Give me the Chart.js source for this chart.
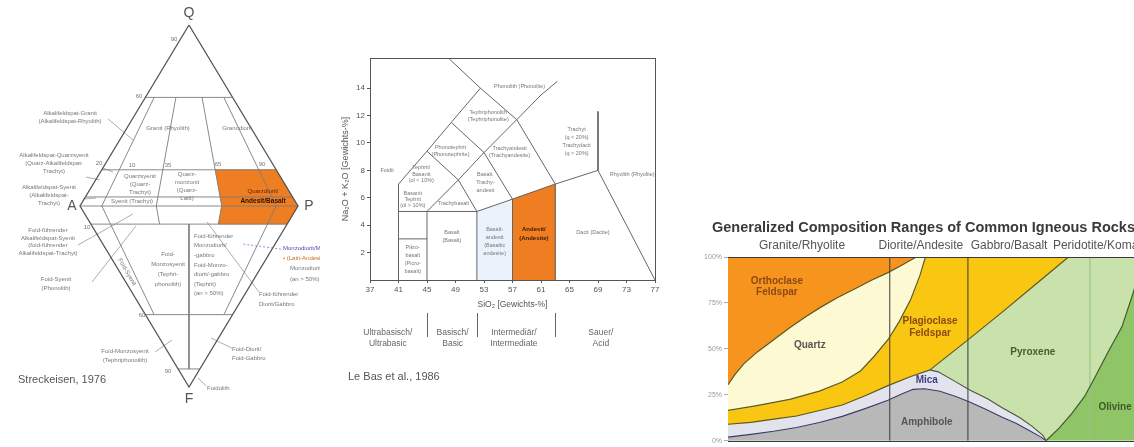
<!DOCTYPE html>
<html>
<head>
<meta charset="utf-8">
<script src="https://cdn.jsdelivr.net/npm/chart.js@4.4.1/dist/chart.umd.min.js"></script>
<style>
  html, body { margin: 0; padding: 0; background: #fff; }
  body { width: 1134px; height: 447px; overflow: hidden; position: relative; }
  canvas { position: absolute; }
</style>
</head>
<body>
<canvas id="qapf" width="320" height="420" style="left:0;top:0"></canvas>
<canvas id="tas" width="370" height="360" style="left:320px;top:40px"></canvas>
<canvas id="comp" width="510" height="247" style="left:690px;top:200px"></canvas>
<script>
/* ════════════════════════════════════════════════════════════════════
   Three igneous classification panels: QAPF, TAS, composition ranges.
════════════════════════════════════════════════════════════════════ */

// ── QAPF (Streckeisen 1976), values in % ──
const qSplits      = [60, 20, 5];          // Q lines in upper triangle
const fSplits      = [10, 60, 90];         // F lines in lower triangle
const ratiosQ60_20 = [10, 35, 65, 90];     // P/(A+P) dividers
const ratiosQ20_5  = [10, 35, 65, 90];
const ratiosQ5_0   = [10, 35, 65, 90];
const ratiosF0_10  = [10, 35, 65, 90];
const ratiosF10_60 = [10, 50, 90];
const ratiosF60_90 = [50];
const markedQ = 20, markedRatio = 65, markedF = 10;   // highlighted field

// ── TAS (Le Bas et al. 1986), SiO2 / Na2O+K2O wt% ──
const tasXTicks = [37, 41, 45, 49, 53, 57, 61, 65, 69, 73, 77];
const tasYTicks = [2, 4, 6, 8, 10, 12, 14];
const tasFoiditeLine   = [[41,0],[41,7],[45,9.4],[48.4,11.5],[52.5,14]];
const tasPhonoliteLine = [[48,16.2],[52.5,14],[57.6,11.7],[63,7]];
const tasTephriteLine  = [[45,9.4],[49.4,7.3],[52,5]];
const tasPhonotephLine = [[48.4,11.5],[53,9.3],[57,5.9]];
const tasAlkaliLine    = [[45,5],[49.4,7.3],[53,9.3],[57.6,11.7],[61,13.5],[63.3,14.5]];
const tasSubalkLine    = [[41,5],[52,5],[57,5.9],[63,7],[69,8]];
const tasPicroTop      = [[41,3],[45,3]];
const tasRhyoliteLine  = [[69,12.3],[69,8],[77,0]];
const tasFieldWalls    = [[45,5],[52,5],[57,5.9],[63,7]];
const tasAndesite      = [[57,0],[57,5.9],[63,7],[63,0]];
const tasBasAndesite   = [[52,0],[52,5],[57,5.9],[57,0]];
const tasClassBreaks   = [45, 52, 63];

// ── Composition ranges, x = % across rock series, y = volume % ──
const compYTicks = [0, 25, 50, 75, 100];
const compColumnBreaks = [35.4, 52.5];
const compPeridotiteBreak = 79.2;
const orthoQuartzLine = [[0,30.5],[1.5,36],[3.5,42],[6.5,48.5],[10,55],[13.5,61.5],[17,67.5],[20.5,73],[24,78],[28,83],[31.5,87.5],[35,91.5],[38,95.5],[40.5,99],[41.2,100]];
const quartzPlagLine  = [[0,16.5],[6,19],[13.5,22.5],[20,27],[25,32],[29,38],[32,46],[35,55],[37.5,65],[40,77],[42,90],[43.2,100]];
const plagMicaLine    = [[0,9],[5,10],[10,11.8],[15,13.5],[20,16.5],[25,19.5],[30,24.5],[35,30],[40,35],[44.2,38.6]];
const pyxMicaLine     = [[44.2,38.6],[46,37.5],[49.2,33],[53,27.5],[56.7,23],[60,18],[63.9,12.5],[66.5,8],[68.9,3],[69.6,0]];
const micaAmphLine    = [[0,2],[5,3.5],[10,5.2],[15,7.2],[20,10],[25,13.3],[30,17.5],[35,22],[38,25.5],[40.5,28],[43,28.3],[46.4,27],[50,24],[53,21],[56.5,17],[60,12.8],[63,9.5],[66.1,5.3],[68.5,2],[69.6,0]];
const plagPyxLine     = [[44.2,38.6],[52.3,54.5],[60,70],[67,84.5],[74.5,100]];
const pyxOlivineLine  = [[69.6,0],[72.5,7],[75.3,15],[78,24],[80.3,34.6],[83,47.5],[86.2,62],[88.6,80],[91,100]];

const FONT = '"Liberation Sans", Arial, sans-serif';
const ORANGE = '#ef7d22';

// ── helpers ──
const pts = arr => arr.map(([x, y]) => ({ x, y }));
const rev = arr => arr.slice().reverse();

function lineSet(data, color, width, dash) {
  return { data, borderColor: color, borderWidth: width, borderDash: dash || [],
           pointRadius: 0, fill: false, tension: 0, order: 1 };
}
function areaSet(data, color) {
  return { data, borderColor: color, borderWidth: 0.6, backgroundColor: color,
           pointRadius: 0, fill: 'shape', tension: 0, order: 2 };
}

// text / rule / frame overlay, drawn through the chart's scales
function notes(cfg) {
  return {
    id: 'notes',
    afterDatasetsDraw(chart) {
      const { ctx, chartArea: a, scales: { x, y } } = chart;
      ctx.save();
      if (cfg.frame) {
        ctx.strokeStyle = cfg.frame; ctx.lineWidth = 1;
        ctx.strokeRect(Math.round(a.left) + 0.5, Math.round(a.top) + 0.5,
                       Math.round(a.right - a.left), Math.round(a.bottom - a.top));
      }
      (cfg.edges || []).forEach(v => {
        const py = Math.round(y.getPixelForValue(v)) + 0.5;
        ctx.strokeStyle = cfg.edgeColor; ctx.lineWidth = 1.2;
        ctx.beginPath(); ctx.moveTo(a.left, py); ctx.lineTo(a.right, py); ctx.stroke();
      });
      (cfg.rules || []).forEach(r => {
        const px = Math.round(x.getPixelForValue(r.x)) + 0.5;
        ctx.strokeStyle = r.color; ctx.lineWidth = 1;
        ctx.beginPath(); ctx.moveTo(px, r.y1); ctx.lineTo(px, r.y2); ctx.stroke();
      });
      (cfg.items || []).forEach(it => {
        const at = it.at || 'data';
        const px = at === 'px' ? it.x : x.getPixelForValue(it.x);
        const py = at === 'data' ? y.getPixelForValue(it.y) : it.y;
        const lines = [].concat(it.lines || it.text);
        const lh = it.lh || (it.size || 6) * 1.3;
        ctx.save();
        ctx.font = `${it.weight || 'normal'} ${it.size || 6}px ${FONT}`;
        ctx.fillStyle = it.color || '#777';
        ctx.textAlign = it.align || 'center';
        ctx.textBaseline = 'middle';
        ctx.translate(px, py);
        if (it.rotate) ctx.rotate(it.rotate * Math.PI / 180);
        lines.forEach((t, i) => ctx.fillText(t, 0, (i - (lines.length - 1) / 2) * lh));
        ctx.restore();
      });
      ctx.restore();
    }
  };
}

function baseOptions(scales, padding) {
  return {
    responsive: false, animation: false, devicePixelRatio: 1, events: [],
    layout: { padding },
    plugins: { legend: { display: false }, tooltip: { enabled: false }, title: { display: false } },
    scales
  };
}

// ── 1. QAPF diamond ──
const qap = (q, r) => ({ x: (1 - q / 100) * (2 * r / 100 - 1), y: q / 100 });
const fap = (f, r) => ({ x: (1 - f / 100) * (2 * r / 100 - 1), y: -f / 100 });
const GREY = '#7c7c7c';

const qapfSets = [];
qapfSets.push(lineSet([qap(100, 50), qap(0, 0), fap(100, 50), qap(0, 100), qap(100, 50)], '#555', 1.3));
qapfSets.push(lineSet([qap(0, 0), qap(0, 100)], GREY, 0.9));
qSplits.forEach(q => qapfSets.push(lineSet([qap(q, 0), qap(q, 100)], GREY, 0.9)));
fSplits.forEach(f => qapfSets.push(lineSet([fap(f, 0), fap(f, 100)], GREY, 0.9)));
ratiosQ60_20.forEach(r => qapfSets.push(lineSet([qap(60, r), qap(20, r)], GREY, 0.9)));
ratiosQ20_5.forEach(r  => qapfSets.push(lineSet([qap(20, r), qap(5, r)], GREY, 0.9)));
ratiosQ5_0.forEach(r   => qapfSets.push(lineSet([qap(5, r), qap(0, r)], GREY, 0.9)));
ratiosF0_10.forEach(r  => qapfSets.push(lineSet([fap(0, r), fap(10, r)], GREY, 0.9)));
ratiosF10_60.forEach(r => qapfSets.push(lineSet([fap(10, r), fap(60, r)], GREY, 0.9)));
ratiosF60_90.forEach(r => qapfSets.push(lineSet([fap(60, r), fap(90, r)], GREY, 0.9)));

// leader lines from the side labels (diagram units)
const qapfLeaders = [
  [[-0.743, 0.481], [-0.514, 0.365]], [[-0.790, 0.210], [-0.697, 0.188]],
  [[-0.945, 0.160], [-0.817, 0.144]], [[-0.972, 0.039], [-0.853, 0.044]],
  [[-1.018, -0.215], [-0.514, -0.044]], [[-0.890, -0.420], [-0.486, -0.110]],
  [[0.642, -0.475], [0.165, -0.088]], [[0.394, -0.785], [0.202, -0.729]],
  [[-0.312, -0.807], [-0.156, -0.740]], [[0.156, -0.994], [0.083, -0.950]]
];
qapfLeaders.forEach(l => qapfSets.push(lineSet(pts(l), '#8a8a8a', 0.7)));
qapfSets.push(lineSet(pts([[0.844, -0.238], [0.495, -0.210]]), '#7a7ad0', 0.8, [2, 2]));

qapfSets.push(areaSet([qap(markedQ, markedRatio), qap(markedQ, 100), qap(0, 100),
                       fap(markedF, 100), fap(markedF, markedRatio), qap(0, markedRatio)], ORANGE));

const qapfItems = [
  { at:'px', x:189, y:13,  text:'Q', size:14, color:'#555' },
  { at:'px', x:72,  y:206, text:'A', size:14, color:'#555' },
  { at:'px', x:309, y:206, text:'P', size:14, color:'#555' },
  { at:'px', x:189, y:399, text:'F', size:14, color:'#555' },
  { at:'px', x:18,  y:380, text:'Streckeisen, 1976', size:11, color:'#555', align:'left' },
  { at:'px', x:174, y:39,  text:'90' }, { at:'px', x:139, y:96, text:'60' },
  { at:'px', x:99,  y:163, text:'20' }, { at:'px', x:132, y:165, text:'10' },
  { at:'px', x:168, y:165, text:'35' }, { at:'px', x:218, y:164, text:'65' },
  { at:'px', x:262, y:164, text:'90' }, { at:'px', x:87,  y:227, text:'10' },
  { at:'px', x:142, y:315, text:'60' }, { at:'px', x:168, y:371, text:'90' },
  { at:'px', x:70, y:117.5, lines:['Alkalifeldspat-Granit', '(Alkalifeldspat-Rhyolith)'], lh:8 },
  { at:'px', x:54, y:163, lines:['Alkalifeldspat-Quarzsyenit', '(Quarz-Alkalifeldspat-', 'Trachyt)'], lh:8 },
  { at:'px', x:49, y:195, lines:['Alkalifeldspat-Syenit', '(Alkalifeldspat-', 'Trachyt)'], lh:8 },
  { at:'px', x:48, y:242, lines:['Foid-führender', 'Alkalifeldspat-Syenit', '(foid-führender', 'Alkalifeldspat-Trachyt)'], lh:7.5 },
  { at:'px', x:56, y:283.5, lines:['Foid-Syenit', '(Phonolith)'], lh:9 },
  { at:'px', x:125, y:355.5, lines:['Foid-Monzosyenit', '(Tephriphonolith)'], lh:9 },
  { at:'px', x:283, y:248, text:'Monzodiorit/Monzogabbro', align:'left', color:'#4a4ab8' },
  { at:'px', x:283, y:258, text:'• (Latit-Andesit)', align:'left', color:'#c8702a' },
  { at:'px', x:290, y:268, text:'Monzodiorit', align:'left' },
  { at:'px', x:290, y:279, text:'(an > 50%)', align:'left' },
  { at:'px', x:259, y:299, lines:['Foid-führender', 'Diorit/Gabbro'], align:'left', lh:10 },
  { at:'px', x:232, y:353.5, lines:['Foid-Diorit/', 'Foid-Gabbro'], align:'left', lh:9 },
  { at:'px', x:207, y:388, text:'Foidolith', align:'left' },
  { at:'px', x:168, y:128, text:'Granit (Rhyolith)' },
  { at:'px', x:237, y:128, text:'Granodiorit' },
  { at:'px', x:140, y:184, lines:['Quarzsyenit', '(Quarz-', 'Trachyt)'], lh:8 },
  { at:'px', x:187, y:186, lines:['Quarz-', 'monzonit', '(Quarz-', 'Latit)'], lh:8 },
  { at:'px', x:132, y:201, text:'Syenit (Trachyt)' },
  { at:'px', x:263, y:191, text:'Quarzdiorit/', color:'#5a2a08' },
  { at:'px', x:263, y:201, text:'Andesit/Basalt', weight:'bold', size:6.5, color:'#2a1200' },
  { at:'px', x:168, y:269.5, lines:['Foid-', 'Monzosyenit', '(Tephri-', 'phonolith)'], lh:10 },
  { at:'px', x:194, y:265, lines:['Foid-führender', 'Monzodiorit/', '-gabbro', 'Foid-Monzo-', 'diorit/-gabbro', '(Tephrit)', '(an > 50%)'], lh:9.6, align:'left' },
  { at:'px', x:127, y:272, text:'Foid-Syenit', rotate:60 }
];

new Chart(document.getElementById('qapf'), {
  type: 'line',
  data: { datasets: qapfSets },
  options: baseOptions({
    x: { type: 'linear', display: false, min: -1.734, max: 1.202 },
    y: { type: 'linear', display: false, min: -1.182, max: 1.138 }
  }, 0),
  plugins: [notes({ items: qapfItems })]
});

// ── 2. TAS diagram ──
const TAS_LINE = '#666';
const tasSets = [
  lineSet(pts(tasFoiditeLine), TAS_LINE, 1),
  lineSet(pts(tasPhonoliteLine), TAS_LINE, 1),
  lineSet(pts(tasTephriteLine), TAS_LINE, 1),
  lineSet(pts(tasPhonotephLine), TAS_LINE, 1),
  lineSet(pts(tasAlkaliLine), TAS_LINE, 1),
  lineSet(pts(tasSubalkLine), TAS_LINE, 1),
  lineSet(pts(tasPicroTop), TAS_LINE, 1),
  lineSet(pts(tasRhyoliteLine), TAS_LINE, 1),
  ...tasFieldWalls.map(([x, top]) => lineSet(pts([[x, 0], [x, top]]), TAS_LINE, 1)),
  areaSet(pts(tasAndesite), ORANGE),
  areaSet(pts(tasBasAndesite), '#eaf3fb')
];

const tasItems = [
  { x:58,   y:14.15, text:'Phonolith (Phonolite)', size:5.5 },
  { x:53.6, y:12.0, lines:['Tephriphonolith', '(Tephriphonolite)'], size:5.5, lh:7 },
  { x:48.3, y:9.4,  lines:['Phonotephrit', '(Phonotephrite)'], size:5.5, lh:7 },
  { x:39.4, y:8,    text:'Foidit', size:5.5 },
  { x:44.2, y:7.7,  lines:['Tephrit/', 'Basanit', '(ol < 10%)'], size:5.5, lh:6.5 },
  { x:43,   y:5.9,  lines:['Basanit', 'Tephrit', '(ol > 10%)'], size:5.5, lh:6 },
  { x:43,   y:1.5,  lines:['Pikro-', 'basalt', '(Picro-', 'basalt)'], size:5.5, lh:8 },
  { x:48.7, y:5.6,  text:'Trachybasalt', size:5.5 },
  { x:53.2, y:7.1,  lines:['Basalt.', 'Trachy-', 'andesit'], size:5.5, lh:8 },
  { x:56.6, y:9.35, lines:['Trachyandesit', '(Trachyandesite)'], size:5.5, lh:7 },
  { x:66,   y:10.1, lines:['Trachyt', '(q < 20%)', 'Trachydacit', '(q > 20%)'], size:5.5, lh:8 },
  { x:73.8, y:7.7,  text:'Rhyolith (Rhyolite)', size:5.5 },
  { x:48.5, y:3.2,  lines:['Basalt', '(Basalt)'], size:5.5, lh:8 },
  { x:54.5, y:2.8,  lines:['Basalt-', 'andesit', '(Basaltic', 'andesite)'], size:5.5, lh:8 },
  { x:60,   y:3.35, lines:['Andesit/', '(Andesite)'], size:6, weight:'bold', color:'#3a1a05', lh:9 },
  { x:68.3, y:3.5,  text:'Dacit (Dacite)', size:5.5 },
  { at:'xdata', x:39.5, y:298.5, lines:['Ultrabasisch/', 'Ultrabasic'], size:8.5, color:'#666', lh:11 },
  { at:'xdata', x:48.6, y:298.5, lines:['Basisch/', 'Basic'], size:8.5, color:'#666', lh:11 },
  { at:'xdata', x:57.2, y:298.5, lines:['Intermediär/', 'Intermediate'], size:8.5, color:'#666', lh:11 },
  { at:'xdata', x:69.4, y:298.5, lines:['Sauer/', 'Acid'], size:8.5, color:'#666', lh:11 },
  { at:'px', x:28, y:337, text:'Le Bas et al., 1986', size:11, color:'#555', align:'left' }
];

const axisText = { size: 8, family: FONT };
new Chart(document.getElementById('tas'), {
  type: 'line',
  data: { datasets: tasSets },
  options: baseOptions({
    x: {
      type: 'linear', min: 37, max: 77,
      afterBuildTicks: s => { s.ticks = tasXTicks.map(v => ({ value: v })); },
      afterFit: s => { s.height = 30; },
      ticks: { font: axisText, color: '#555', padding: 2, autoSkip: false, maxRotation: 0 },
      grid: { drawOnChartArea: false, tickLength: 3, color: '#555' },
      border: { display: true, color: '#555' },
      title: { display: true, text: 'SiO₂ [Gewichts-%]', font: { size: 8.5, family: FONT }, color: '#555', padding: 0 }
    },
    y: {
      type: 'linear', min: 0, max: 16.2,
      afterBuildTicks: s => { s.ticks = tasYTicks.map(v => ({ value: v })); },
      afterFit: s => { s.width = 30; },
      ticks: { font: axisText, color: '#555', padding: 2, autoSkip: false },
      grid: { drawOnChartArea: false, tickLength: 3, color: '#555' },
      border: { display: true, color: '#555' },
      title: { display: true, text: 'Na₂O + K₂O [Gewichts-%]', font: { size: 9, family: FONT }, color: '#555', padding: 0 }
    }
  }, { top: 18, right: 35, bottom: 90, left: 20 }),
  plugins: [notes({
    frame: '#555',
    rules: tasClassBreaks.map(x => ({ x, y1: 273, y2: 297, color: '#666' })),
    items: tasItems
  })]
});

// ── 3. Composition ranges ──
const OLIVE = '#5a5a26';
const compSets = [
  lineSet(pts(orthoQuartzLine), OLIVE, 1.2),
  lineSet(pts(quartzPlagLine), OLIVE, 1.2),
  lineSet(pts(plagMicaLine), OLIVE, 1.2),
  lineSet(pts(pyxMicaLine), '#4d5540', 1.1),
  lineSet(pts(micaAmphLine), '#3b3b62', 1.1),
  lineSet(pts(plagPyxLine), OLIVE, 1.2),
  lineSet(pts(pyxOlivineLine), '#3f5a2a', 1.2),
  ...compColumnBreaks.map(b => lineSet(pts([[b, 0], [b, 100]]), '#3a3a3a', 1)),
  lineSet(pts([[compPeridotiteBreak, 0], [compPeridotiteBreak, 100]]), '#9cc488', 1.2),
  areaSet(pts([[0, 100], ...orthoQuartzLine]), '#f7941e'),
  areaSet(pts([...orthoQuartzLine, ...rev(quartzPlagLine)]), '#fdfad3'),
  areaSet(pts([...quartzPlagLine, ...rev(plagPyxLine), ...rev(plagMicaLine)]), '#f9c712'),
  areaSet(pts([...plagMicaLine, ...pyxMicaLine, ...rev(micaAmphLine)]), '#e3e3ee'),
  areaSet(pts([...micaAmphLine, [0, 0]]), '#b8b8b8'),
  areaSet(pts([...plagPyxLine, ...rev(pyxOlivineLine), ...rev(pyxMicaLine)]), '#c9e1aa'),
  areaSet(pts([...pyxOlivineLine, [100, 100], [100, 0]]), '#8fc467')
];

const compItems = [
  { at:'px', x:22, y:28, text:'Generalized Composition Ranges of Common Igneous Rocks', size:14.5, weight:'bold', color:'#3a3a3a', align:'left' },
  { at:'xdata', x:16.2, y:46, text:'Granite/Rhyolite', size:12, color:'#555' },
  { at:'xdata', x:42.2, y:46, text:'Diorite/Andesite', size:12, color:'#555' },
  { at:'xdata', x:61.5, y:46, text:'Gabbro/Basalt', size:12, color:'#555' },
  { at:'xdata', x:71.1, y:46, text:'Peridotite/Komatiite', size:12, color:'#555', align:'left' },
  { x:10.7, y:84,   lines:['Orthoclase', 'Feldspar'], size:10, weight:'bold', color:'#8a4a14', lh:11 },
  { x:17.9, y:52.2, text:'Quartz', size:10, weight:'bold', color:'#555' },
  { x:44.2, y:62,   lines:['Plagioclase', 'Feldspar'], size:10, weight:'bold', color:'#8a4a14', lh:12 },
  { x:66.7, y:48,   text:'Pyroxene', size:10, weight:'bold', color:'#4b5a33' },
  { x:43.5, y:33,   text:'Mica', size:10, weight:'bold', color:'#3c3f86' },
  { x:43.5, y:10,   text:'Amphibole', size:10, weight:'bold', color:'#555' },
  { x:84.7, y:18,   text:'Olivine', size:10, weight:'bold', color:'#3d5a2a' }
];

new Chart(document.getElementById('comp'), {
  type: 'line',
  data: { datasets: compSets },
  options: baseOptions({
    x: { type: 'linear', display: false, min: 0, max: 100 },
    y: {
      type: 'linear', min: 0, max: 100,
      afterBuildTicks: s => { s.ticks = compYTicks.map(v => ({ value: v })); },
      afterFit: s => { s.width = 38; },
      ticks: { callback: v => v + '%', font: { size: 7, family: FONT }, color: '#999', padding: 2, autoSkip: false },
      grid: { drawOnChartArea: false, tickLength: 4, color: '#aaa' },
      border: { display: true, color: '#aaa' }
    }
  }, { top: 57, right: 15, bottom: 2, left: 0 }),
  plugins: [notes({ edges: [0, 100], edgeColor: '#3a3a3a', items: compItems })]
});
</script>
</body>
</html>
